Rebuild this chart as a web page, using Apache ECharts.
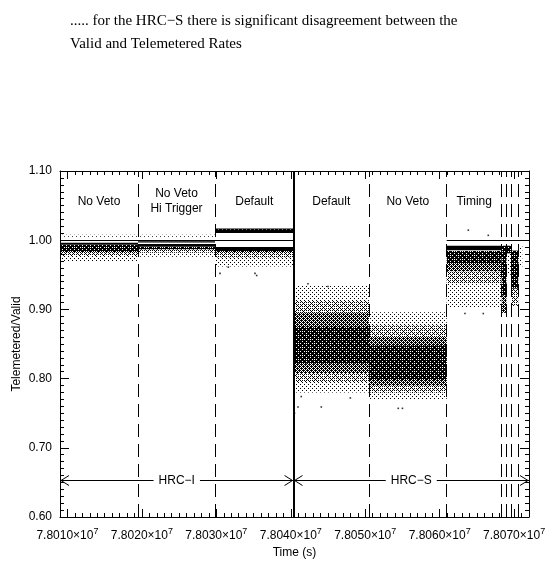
<!DOCTYPE html>
<html>
<head>
<meta charset="utf-8">
<script src="https://cdn.jsdelivr.net/npm/echarts@6/dist/echarts.min.js"></script>
<style>
  html, body { margin: 0; padding: 0; background: #fff; }
  #main { width: 560px; height: 565px; }
</style>
</head>
<body>
<div id="main"></div>
<script>
// axis ranges
const xMin = 78009000, xMax = 78072000;
const yMin = 0.6, yMax = 1.1;

// time of each region boundary (vertical lines), first/last are the cloud limits
const regionEdges = [78009000, 78019480, 78029820, 78040370, 78050500, 78060940, 78068330, 78068980, 78069580, 78070560, 78071100];
const dashedEdges = [78019480, 78029820, 78050500, 78060940, 78068330, 78068980, 78069580, 78070560];
const solidEdge = 78040370;

// mode names written at the top of each region
const regionNames = ['No Veto', 'No Veto\nHi Trigger', 'Default', 'Default', 'No Veto', 'Timing'];
const regionNameValue = 1.056;

// point clouds, one list per region: [low, high, density 0 sparse .. 4 solid]
const hrciNoVeto = [[0.969, 0.977, 0], [0.977, 0.983, 1], [0.983, 0.994, 3], [0.9945, 0.9962, 4], [1.005, 1.008, 0]];
const hrciHiTrigger = [[0.976, 0.982, 0], [0.982, 0.987, 1], [0.987, 0.991, 3], [0.991, 0.9945, 4], [0.9968, 0.9984, 4], [1.005, 1.008, 0]];
const hrciDefault = [[0.962, 0.975, 0], [0.975, 0.983, 1], [0.983, 0.986, 3], [0.986, 0.990, 4], [1.0105, 1.017, 3], [1.012, 1.0155, 4]];
const hrcsDefault = [[0.780, 0.935, 0], [0.795, 0.912, 1], [0.808, 0.895, 2], [0.822, 0.875, 3]];
const hrcsNoVeto = [[0.769, 0.896, 0], [0.780, 0.877, 1], [0.790, 0.860, 2], [0.798, 0.848, 3]];
const hrcsTiming = [[0.902, 0.938, 0], [0.938, 0.955, 1], [0.955, 0.967, 2], [0.967, 0.9845, 3], [0.9855, 0.992, 4]];
const timingA = [[0.895, 0.920, 2], [0.920, 0.992, 3]];
const timingB = [[0.950, 0.981, 0], [0.981, 0.992, 3]];
const timingC = [[0.905, 0.930, 1], [0.930, 0.985, 3]];
const timingD = [[0.960, 0.992, 0]];
const regionBands = [hrciNoVeto, hrciHiTrigger, hrciDefault, hrcsDefault, hrcsNoVeto, hrcsTiming, timingA, timingB, timingC, timingD];

// isolated points outside the clouds
const outlierTimes = [78030490, 78031610, 78035190, 78035420, 78040970, 78041410, 78044100, 78040500, 78048000, 78054440, 78055000, 78042310, 78045000, 78063400, 78065860, 78063850, 78066530];
const outlierValues = [0.952, 0.961, 0.952, 0.949, 0.759, 0.774, 0.759, 0.750, 0.772, 0.757, 0.757, 0.937, 0.933, 0.894, 0.894, 1.0145, 1.007];

// reference lines at ratio 1.00
const refStart = [78009000, 78060940];
const refEnd = [78040370, 78072000];
const refValue = 1.0;

// detector spans with arrows
const detStart = [78009000, 78040370];
const detEnd = [78040370, 78072000];
const detNames = ['HRC\u2212I', 'HRC\u2212S'];
const detValue = 0.653;

const font = 'Liberation Sans';

// dot textures for the clouds (ordered dither)
const bayer = [
  [0, 32, 8, 40, 2, 34, 10, 42],
  [48, 16, 56, 24, 50, 18, 58, 26],
  [12, 44, 4, 36, 14, 46, 6, 38],
  [60, 28, 52, 20, 62, 30, 54, 22],
  [3, 35, 11, 43, 1, 33, 9, 41],
  [51, 19, 59, 27, 49, 17, 57, 25],
  [15, 47, 7, 39, 13, 45, 5, 37],
  [63, 31, 55, 23, 61, 29, 53, 21]
];
function makePattern(th) {
  const c = document.createElement('canvas');
  c.width = 8; c.height = 8;
  const ctx = c.getContext('2d');
  ctx.fillStyle = '#000';
  for (let i = 0; i < 8; i++) {
    for (let j = 0; j < 8; j++) {
      if (bayer[i][j] < th) ctx.fillRect(j, i, 1, 1);
    }
  }
  return { image: c, repeat: 'repeat' };
}
const fills = [makePattern(8), makePattern(22), makePattern(40), makePattern(54), '#000'];

const bandData = [];
regionBands.forEach((bands, i) => {
  bands.forEach(b => bandData.push([regionEdges[i], regionEdges[i + 1], b[0], b[1], b[2]]));
});
bandData.sort((a, b) => a[4] - b[4]);

const nameData = regionNames.map((n, i) => [(regionEdges[i] + regionEdges[i + 1]) / 2, regionNameValue]);

const chart = echarts.init(document.getElementById('main'));

const tickStyle = { color: '#000', width: 1 };

const option = {
  animation: false,
  backgroundColor: '#fff',
  title: {
    text: '..... for the HRC\u2212S there is significant disagreement between the\nValid and Telemetered Rates',
    left: 65,
    top: 5,
    textStyle: { fontFamily: 'Liberation Serif', fontSize: 15, fontWeight: 'normal', color: '#000', lineHeight: 23 }
  },
  grid: { left: 60, top: 171, width: 469, height: 346, outerBoundsMode: 'none' },
  xAxis: [
    {
      type: 'value', position: 'bottom', min: xMin, max: xMax, splitNumber: 6,
      axisLine: { lineStyle: tickStyle },
      axisTick: { inside: true, length: 8, lineStyle: tickStyle },
      splitLine: { show: false },
      axisLabel: {
        margin: 10,
        formatter: v => (v % 10000 === 0 ? '{m|' + (v / 1e7).toFixed(4) + '\u00d710}{s|7}' : ''),
        rich: {
          m: { fontFamily: font, fontSize: 12, color: '#000' },
          s: { fontFamily: font, fontSize: 9, color: '#000', padding: [0, 0, 8, 0] }
        }
      },
      name: 'Time (s)', nameLocation: 'middle', nameGap: 26,
      nameTextStyle: { fontFamily: font, fontSize: 12, color: '#000' }
    },
    {
      type: 'value', position: 'bottom', min: xMin, max: xMax, interval: 1000,
      axisLine: { show: false }, axisLabel: { show: false }, splitLine: { show: false },
      axisTick: { inside: true, length: 4, lineStyle: tickStyle }
    },
    {
      type: 'value', position: 'top', min: xMin, max: xMax, splitNumber: 6,
      axisLine: { lineStyle: tickStyle }, axisLabel: { show: false }, splitLine: { show: false },
      axisTick: { inside: true, length: 8, lineStyle: tickStyle }
    },
    {
      type: 'value', position: 'top', min: xMin, max: xMax, interval: 1000,
      axisLine: { show: false }, axisLabel: { show: false }, splitLine: { show: false },
      axisTick: { inside: true, length: 4, lineStyle: tickStyle }
    }
  ],
  yAxis: [
    {
      type: 'value', position: 'left', min: yMin, max: yMax, interval: 0.1,
      axisLine: { lineStyle: tickStyle },
      axisTick: { inside: true, length: 9, lineStyle: tickStyle },
      minorTick: { show: true, splitNumber: 10, length: 4, lineStyle: tickStyle },
      splitLine: { show: false },
      axisLabel: { formatter: v => v.toFixed(2), margin: 8, fontFamily: font, fontSize: 12, color: '#000' },
      name: 'Telemetered/Valid', nameLocation: 'middle', nameGap: 37, nameMoveOverlap: false,
      nameTextStyle: { fontFamily: font, fontSize: 12, color: '#000' }
    },
    {
      type: 'value', position: 'right', min: yMin, max: yMax, interval: 0.1,
      axisLine: { lineStyle: tickStyle },
      axisTick: { inside: true, length: 9, lineStyle: tickStyle },
      minorTick: { show: true, splitNumber: 10, length: 4, lineStyle: tickStyle },
      splitLine: { show: false },
      axisLabel: { show: false }
    }
  ],
  series: [
    {
      name: 'clouds',
      type: 'custom',
      silent: true,
      clip: true,
      data: bandData,
      encode: { x: [0, 1], y: [2, 3] },
      renderItem: (params, api) => {
        const a = api.coord([api.value(0), api.value(3)]);
        const b = api.coord([api.value(1), api.value(2)]);
        return {
          type: 'rect',
          shape: { x: a[0], y: a[1], width: b[0] - a[0], height: Math.max(b[1] - a[1], 1.2) },
          style: { fill: fills[api.value(4)] }
        };
      }
    },
    {
      name: 'outliers',
      type: 'scatter',
      silent: true,
      symbol: 'rect',
      symbolSize: 1.6,
      itemStyle: { color: '#000' },
      data: outlierTimes.map((t, i) => [t, outlierValues[i]])
    },
    {
      name: 'boundaries',
      type: 'line',
      data: [],
      markLine: {
        silent: true,
        symbol: 'none',
        label: { show: false },
        lineStyle: { color: '#000', type: [13, 7], width: 1 },
        data: dashedEdges.map(t => ({ xAxis: t })).concat([
          { xAxis: solidEdge, lineStyle: { type: 'solid', width: 2 } }
        ]).concat(refStart.map((t, i) => [
          { coord: [t, refValue], lineStyle: { type: 'solid', width: 1 } },
          { coord: [refEnd[i], refValue] }
        ]))
      }
    },
    {
      name: 'detectors',
      type: 'custom',
      silent: true,
      data: detStart.map((t, i) => [t, detEnd[i], detValue]),
      encode: { x: [0, 1], y: 2 },
      renderItem: (params, api) => {
        const a = api.coord([api.value(0), api.value(2)]);
        const b = api.coord([api.value(1), api.value(2)]);
        const y = Math.round(a[1]) + 0.5;
        const s = { stroke: '#000', lineWidth: 1, fill: null };
        return {
          type: 'group',
          children: [
            { type: 'line', shape: { x1: a[0], y1: y, x2: b[0], y2: y }, style: s },
            { type: 'polyline', shape: { points: [[a[0] + 9, y - 5], [a[0] + 1, y], [a[0] + 9, y + 5]] }, style: s },
            { type: 'polyline', shape: { points: [[b[0] - 9, y - 5], [b[0] - 1, y], [b[0] - 9, y + 5]] }, style: s },
            {
              type: 'text', x: (a[0] + b[0]) / 2, y: y,
              style: {
                text: detNames[params.dataIndex], fill: '#000', fontFamily: font, fontSize: 12,
                align: 'center', verticalAlign: 'middle', backgroundColor: '#fff', padding: [1, 5]
              }
            }
          ]
        };
      }
    },
    {
      name: 'modes',
      type: 'custom',
      silent: true,
      data: nameData,
      encode: { x: 0, y: 1 },
      renderItem: (params, api) => {
        const p = api.coord([api.value(0), api.value(1)]);
        return {
          type: 'text', x: p[0], y: p[1],
          style: {
            text: regionNames[params.dataIndex], fill: '#000', fontFamily: font, fontSize: 12,
            lineHeight: 15, align: 'center', verticalAlign: 'middle'
          }
        };
      }
    }
  ]
};

chart.setOption(option);
window.addEventListener('resize', () => chart.resize());
</script>
</body>
</html>
